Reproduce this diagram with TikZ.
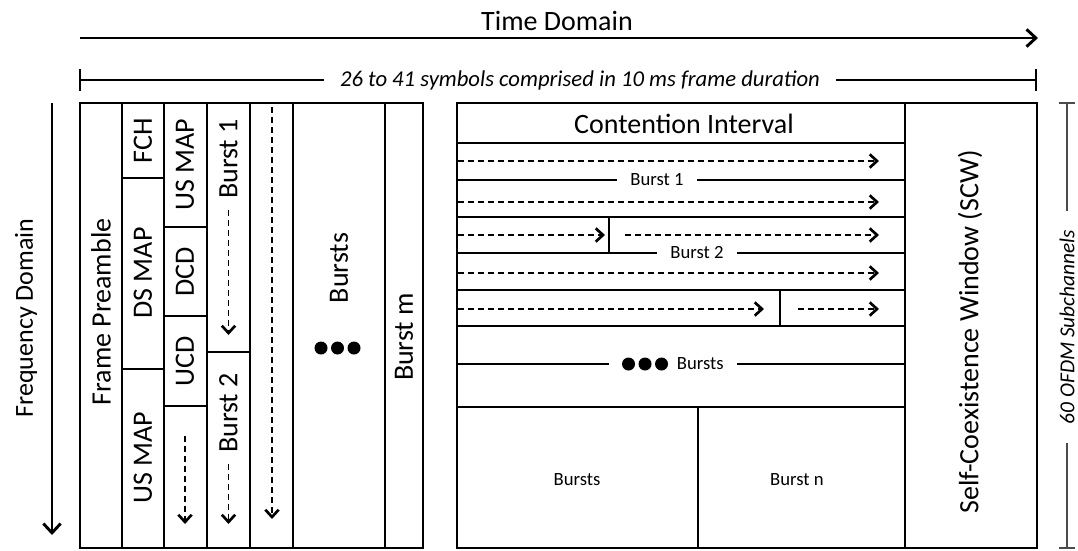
\documentclass[tikz,border=0pt]{standalone}
\usepackage{fontspec}
\setmainfont{Carlito}
\usetikzlibrary{arrows.meta, positioning}

\tikzstyle{cell} = [line width=2pt]
\tikzstyle{timeline} = [line width=1.6pt, -{Straight Barb[length=7pt,width=13pt,line width=2.2pt]}]
\tikzstyle{dimline} = [line width=0.9pt]
\tikzstyle{scaleline} = [line width=0.8pt, black!70]
\tikzstyle{flow} = [line width=0.9pt, dash pattern=on 4.5pt off 3pt, -{Straight Barb[length=5.5pt,width=10pt,line width=2pt]}]
\tikzstyle{big} = [font=\fontsize{21}{24}\selectfont, inner sep=0pt]
\tikzstyle{vert} = [big, rotate=90]
\tikzstyle{small} = [font=\fontsize{14}{16}\selectfont, fill=white, inner xsep=10pt, inner ysep=1pt]
\tikzstyle{note} = [font=\fontsize{17}{19}\selectfont\itshape, fill=white, inner xsep=12pt, inner ysep=1pt]

\begin{document}
\begin{tikzpicture}[x=0.75pt, y=-0.75pt]
\useasboundingbox (0,0) rectangle (1078,550);

% Time axis:
\coordinate (t0) at (80,38);
\coordinate (t1) at (1038,38);
\draw[timeline] (t0) -- (t1);
\node(time)[big] at (557,21) {Time Domain};

% Frequency axis:
\coordinate (f0) at (52,103);
\coordinate (f1) at (52,535);
\draw[timeline] (f0) -- (f1);
\node(freq)[vert, font=\fontsize{19.5}{22}\selectfont] at (26,318) {Frequency Domain};

% Frame duration:
\coordinate (d0) at (80,80);
\coordinate (d1) at (1036,80);
\draw[dimline] (d0) -- (d1);
\draw[dimline] (80,69) -- (80,91);
\draw[dimline] (1036,69) -- (1036,91);
\node(duration)[note] at (580,80) {26 to 41 symbols comprised in 10 ms frame duration};

% Downstream subframe:
\draw[cell] (80,103) rectangle (423,548);
\foreach \x in {122,164,207,250,293,385}
	\draw[cell] (\x,103) -- (\x,548);
\draw[cell] (122,178) -- (164,178);
\draw[cell] (122,369) -- (164,369);
\foreach \y in {227,316,406}
	\draw[cell] (164,\y) -- (207,\y);
\draw[cell] (207,352) -- (250,352);

\node(preamble)[vert] at (101,312) {Frame Preamble};
\node(fch)[vert] at (143,141) {FCH};
\node(dsmap)[vert] at (143,273) {DS MAP};
\node(usmapa)[vert] at (143,458) {US MAP};
\node(usmapb)[vert] at (185,165) {US MAP};
\node(dcd)[vert] at (185,272) {DCD};
\node(ucd)[vert] at (185,361) {UCD};
\node(burst1)[vert] at (228.5,159) {Burst 1};
\node(burst2)[vert] at (228.5,413) {Burst 2};
\node(bursts)[vert] at (339,268) {Bursts};
\node(burstm)[vert] at (404,337) {Burst m};

\coordinate (c3top) at (185,436);
\coordinate (c3end) at (185,524);
\draw[flow] (c3top) -- (c3end);
\coordinate (b1end) at (228.5,335);
\draw[flow, shorten <=8pt] (burst1.west) -- (b1end);
\coordinate (b2end) at (228.5,524);
\draw[flow, shorten <=8pt] (burst2.west) -- (b2end);
\coordinate (c5top) at (272,107);
\coordinate (c5end) at (272,519);
\draw[flow] (c5top) -- (c5end);
\foreach \x in {321,337.5,354}
	\fill (\x,348) circle (6.5);

% Upstream subframe:
\draw[cell] (457,103) rectangle (1037,548);
\draw[cell] (905,103) -- (905,548);
\foreach \y in {143,180,217,253,290,326,364,407}
	\draw[cell] (457,\y) -- (905,\y);
\draw[cell] (609,217) -- (609,253);
\draw[cell] (780,290) -- (780,326);
\draw[cell] (698,407) -- (698,548);

\node(contention)[big] at (684,124) {Contention Interval};
\node(rburst1)[small] at (657,180) {Burst 1};
\node(rburst2)[small] at (697,253) {Burst 2};
\node(rbursts)[small] at (673,364) {\hspace{41pt}Bursts};
\foreach \x in {628.5,645,661.5}
	\fill (\x,364) circle (6.5);
\node(lower)[small, fill=none] at (577,480) {Bursts};
\node(burstn)[small, fill=none] at (797,480) {Burst n};
\node(scw)[vert] at (970,332) {Self-Coexistence Window (SCW)};

\foreach \y in {161,202,273} {
	\coordinate (l\y) at (458,\y);
	\coordinate (r\y) at (879,\y);
	\draw[flow] (l\y) -- (r\y);
}
\coordinate (l235) at (458,235);
\coordinate (m235) at (605,235);
\coordinate (n235) at (625,235);
\coordinate (r235) at (879,235);
\draw[flow] (l235) -- (m235);
\draw[flow] (n235) -- (r235);
\coordinate (l309) at (458,309);
\coordinate (m309) at (764,309);
\coordinate (n309) at (798,309);
\coordinate (r309) at (879,309);
\draw[flow] (l309) -- (m309);
\draw[flow] (n309) -- (r309);

% Subchannel span:
\coordinate (s0) at (1067,103);
\coordinate (s1) at (1067,548);
\draw[scaleline] (s0) -- (s1);
\draw[scaleline] (1059,103) -- (1075,103);
\draw[scaleline] (1059,548) -- (1075,548);
\node(subch)[note, font=\fontsize{16}{18}\selectfont\itshape, rotate=90, inner xsep=14pt] at (1067,327) {60 OFDM Subchannels};

\end{tikzpicture}
\end{document}
